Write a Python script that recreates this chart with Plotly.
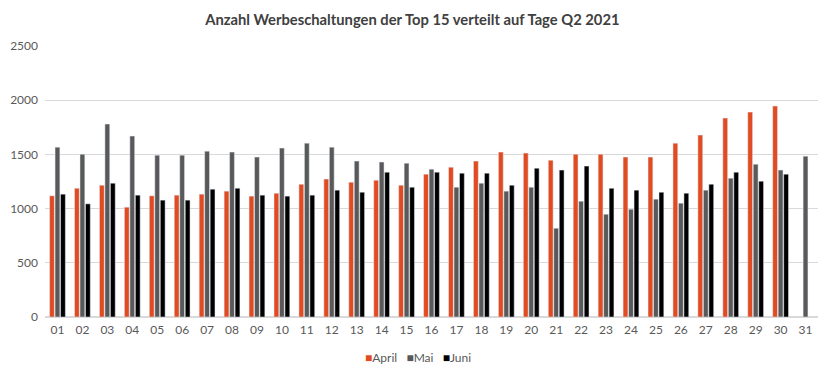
import plotly.graph_objects as go

days = [f"{i:02d}" for i in range(1, 32)]
april = [1118, 1188, 1216, 1013, 1118, 1124, 1133, 1161, 1115, 1142,
         1225, 1272, 1244, 1262, 1216, 1318, 1382, 1438, 1521, 1512,
         1447, 1502, 1502, 1475, 1475, 1604, 1678, 1835, 1890, 1946, None]
mai = [1567, 1502, 1780, 1669, 1493, 1493, 1530, 1521, 1475, 1558,
       1604, 1567, 1438, 1429, 1419, 1364, 1198, 1235, 1161, 1198,
       819, 1068, 948, 994, 1087, 1050, 1170, 1281, 1410, 1355, 1484]
juni = [1133, 1044, 1235, 1124, 1078, 1078, 1179, 1188, 1124, 1115,
        1124, 1170, 1151, 1336, 1198, 1336, 1327, 1327, 1216, 1373,
        1355, 1392, 1188, 1170, 1151, 1142, 1225, 1336, 1253, 1318, None]
series_names = ["April", "Mai", "Juni"]
colors = ["#E04B22", "#595959", "#000000"]

fig = go.Figure()
for name, vals, col in zip(series_names, [april, mai, juni], colors):
    fig.add_bar(name=name, x=days, y=vals, marker_color=col, showlegend=False)

legend_text = "&nbsp;&nbsp;&nbsp;".join(
    f"<span style='color:{c}'>■</span>{n}" for n, c in zip(series_names, colors)
)

fig.update_layout(
    width=832, height=379,
    margin=dict(l=37, r=22, t=38, b=70, autoexpand=False),
    paper_bgcolor="white", plot_bgcolor="white",
    barmode="group", bargap=0.34, bargroupgap=0.12,
    font=dict(family="Lato, Calibri, sans-serif", color="#595959", size=12),
    title=dict(text="<b>Anzahl Werbeschaltungen der Top 15 verteilt auf Tage Q2 2021</b>",
               x=0.486, xanchor="center", y=0.968, yanchor="middle",
               font=dict(size=14.75, color="#404040", family="Lato, Calibri, sans-serif")),
    annotations=[dict(text=legend_text, xref="paper", yref="paper",
                      x=0.483, xanchor="center", y=-0.148, yanchor="middle",
                      showarrow=False, font=dict(size=12, color="#595959"))],
    yaxis=dict(range=[0, 2500], dtick=500, showgrid=True, gridcolor="#D9D9D9",
               zeroline=True, zerolinecolor="#D9D9D9", showline=False,
               tickfont=dict(size=12, color="#595959"), ticks="",
               ticklabelstandoff=6),
    xaxis=dict(showline=True, linecolor="#D9D9D9", ticks="", type="category",
               tickfont=dict(size=12, color="#595959"), ticklabelstandoff=2),
)
fig.write_html("out.html")
